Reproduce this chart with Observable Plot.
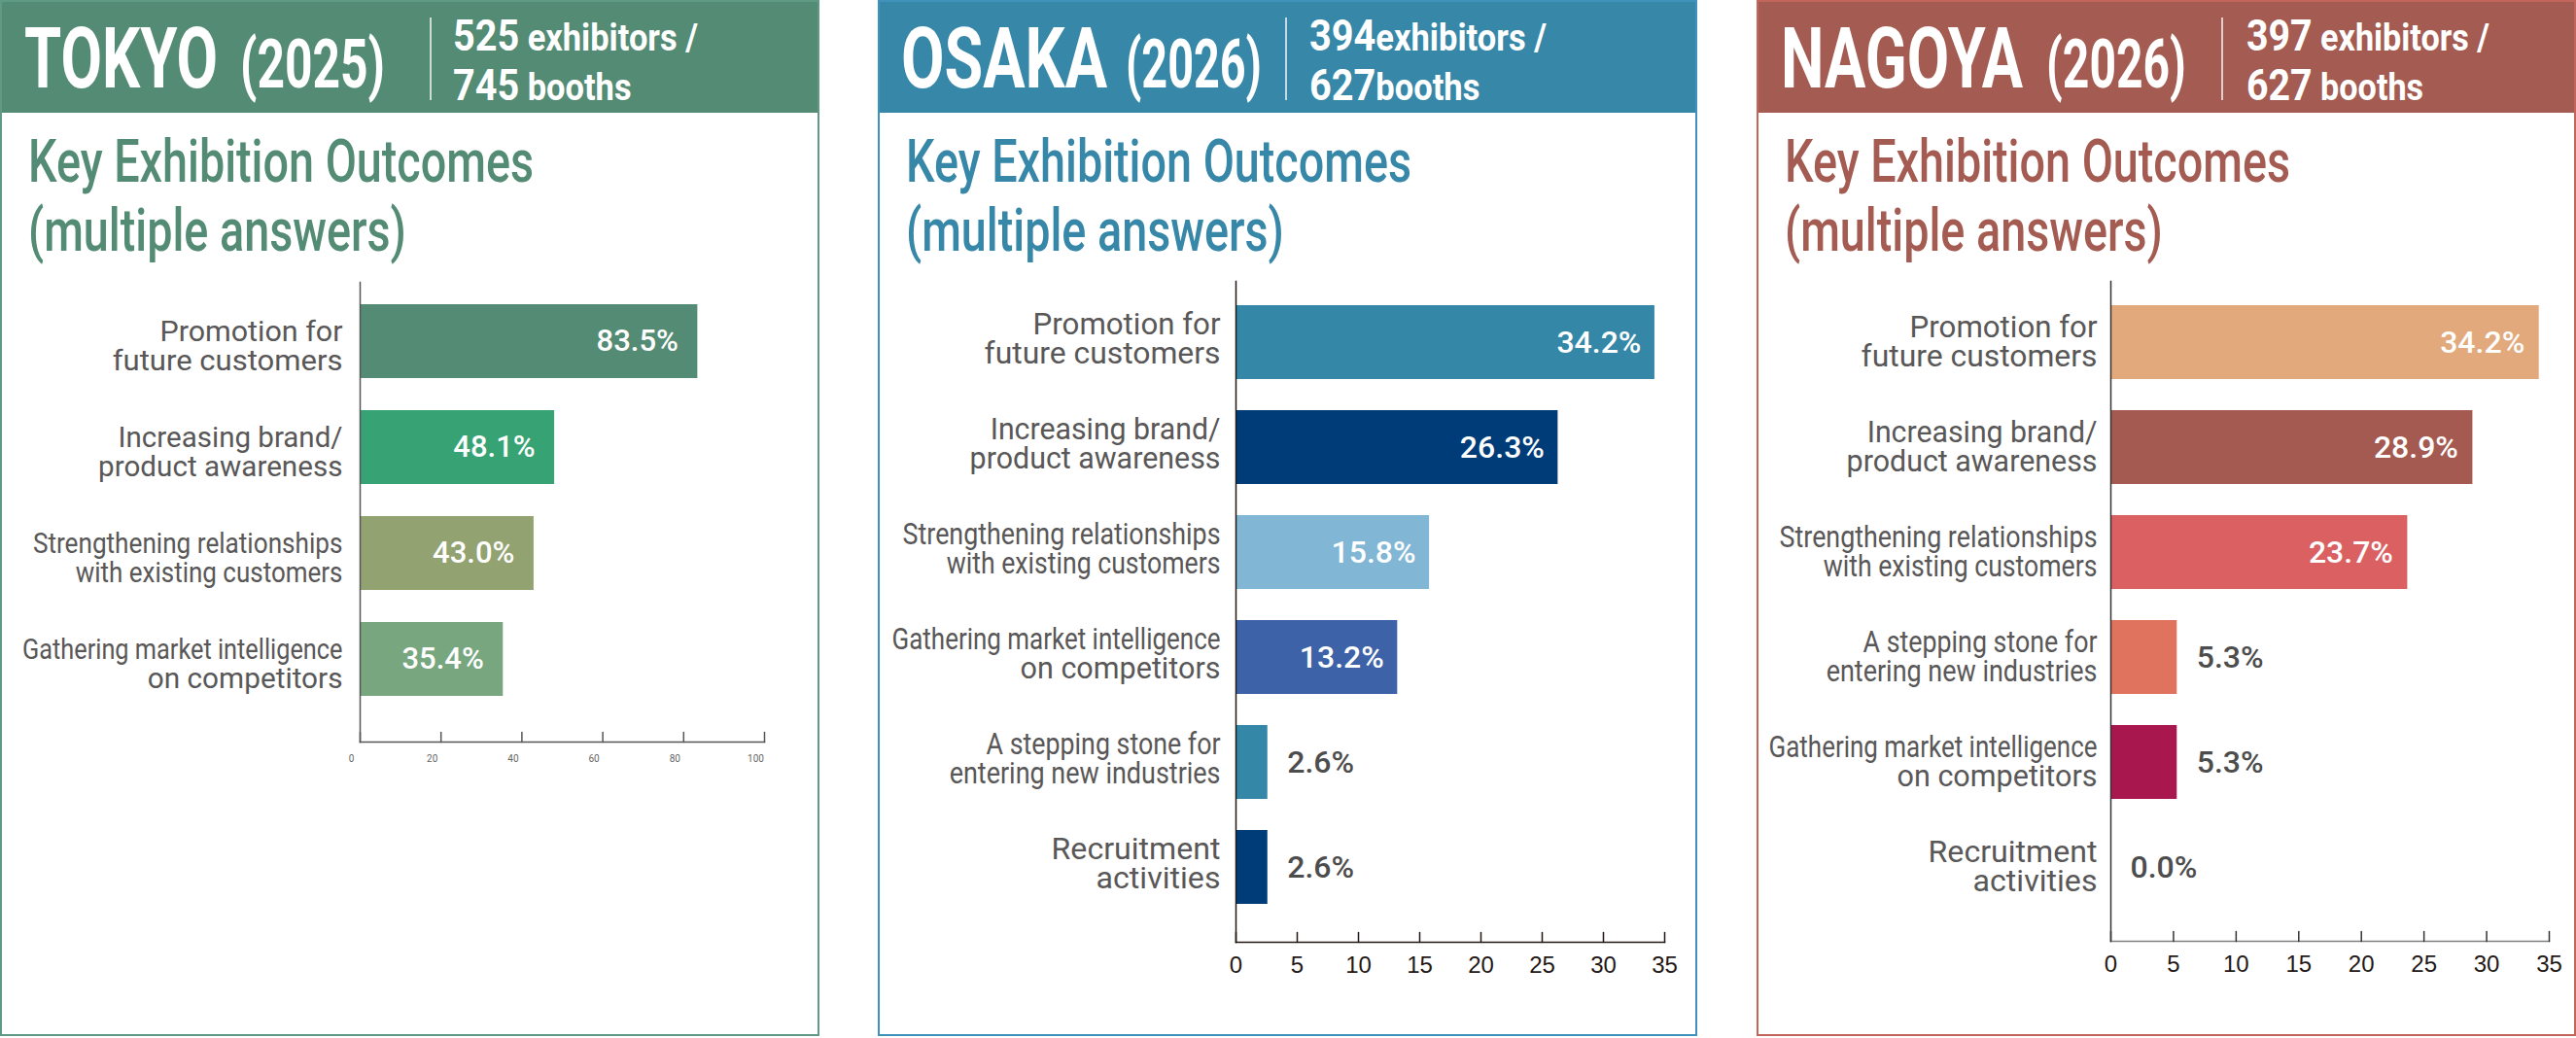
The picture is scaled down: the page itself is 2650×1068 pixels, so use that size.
<!DOCTYPE html>
<html>
<head>
<meta charset="utf-8">
<script src="https://cdn.jsdelivr.net/npm/d3@7"></script>
<script src="https://cdn.jsdelivr.net/npm/@observablehq/plot@0.6"></script>
<style>
html, body { margin: 0; padding: 0; background: #fff; }
#root { position: relative; width: 2650px; height: 1068px; overflow: hidden; background: #fff; }
.panel { position: absolute; top: 0; width: 843px; height: 1066px; }
.frame { position: absolute; left: 0; top: 0; width: 843px; height: 1066px; box-sizing: border-box; border: 2px solid; pointer-events: none; }
.hdr { position: absolute; left: 0; top: 0; width: 843px; height: 116px; }
.t { position: absolute; white-space: nowrap; transform-origin: 0 0; line-height: 1; font-family: Roboto, "DejaVu Sans", sans-serif; }
.chart { position: absolute; left: 0; top: 280px; }
</style>
</head>
<body>
<div id="root"></div>
<script>
// ---------- DATA ----------
const cities = ["TOKYO", "OSAKA", "NAGOYA"];
const years = ["(2025)", "(2026)", "(2026)"];
const exhibitorCounts = ["525", "394", "397"];
const exhibitorWords = [" exhibitors /", "exhibitors /", " exhibitors /"];
const boothCounts = ["745", "627", "627"];
const boothWords = [" booths", "booths", " booths"];
const titleLine1 = "Key Exhibition Outcomes";
const titleLine2 = "(multiple answers)";

const tokyoCategories = [
  "Promotion for\nfuture customers",
  "Increasing brand/\nproduct awareness",
  "Strengthening relationships\nwith existing customers",
  "Gathering market intelligence\non competitors"
];
const tokyoValues = [83.5, 48.1, 43.0, 35.4];
const tokyoColors = ["#548b74", "#37a273", "#92a271", "#77a67f"];
const tokyoTicks = [0, 20, 40, 60, 80, 100];

const osakaCategories = [
  "Promotion for\nfuture customers",
  "Increasing brand/\nproduct awareness",
  "Strengthening relationships\nwith existing customers",
  "Gathering market intelligence\non competitors",
  "A stepping stone for\nentering new industries",
  "Recruitment\nactivities"
];
const osakaValues = [34.2, 26.3, 15.8, 13.2, 2.6, 2.6];
const osakaColors = ["#3587a8", "#003c78", "#81b6d5", "#3e62a8", "#3587a8", "#003c78"];
const osakaTicks = [0, 5, 10, 15, 20, 25, 30, 35];

const nagoyaCategories = [
  "Promotion for\nfuture customers",
  "Increasing brand/\nproduct awareness",
  "Strengthening relationships\nwith existing customers",
  "A stepping stone for\nentering new industries",
  "Gathering market intelligence\non competitors",
  "Recruitment\nactivities"
];
const nagoyaValues = [34.2, 28.9, 23.7, 5.3, 5.3, 0.0];
const nagoyaColors = ["#e2a97c", "#a45a50", "#da6062", "#e0735e", "#a8184f", "#ffffff"];
const nagoyaTicks = [0, 5, 10, 15, 20, 25, 30, 35];

// ---------- LAYOUT / STYLE ----------
// set width (px) of each label line in the reference typesetting (some lines are condensed)
const labelLineWidths = {
  "Promotion for": 193, "future customers": 243,
  "Increasing brand/": 237, "product awareness": 258,
  "Strengthening relationships": 327, "with existing customers": 282,
  "Gathering market intelligence": 338, "on competitors": 206,
  "A stepping stone for": 241, "entering new industries": 279,
  "Recruitment": 174, "activities": 128
};

const panelsCfg = [
  { left: 0, head: "#538b74", border: "#5f9a84",
    city: {x: 25, w: 199}, year: {x: 247, w: 149}, div: 442, stats: {x: 466, w: 252},
    chart: { categories: tokyoCategories, values: tokyoValues, colors: tokyoColors, ticks: tokyoTicks,
      ml: 370, mr: 57, mt: 10, mb: 303, it: 23, ib: 46,
      yAxisColor: "#555", xAxisColor: "#555", tickColor: "#555",
      tickDy: 17, tickDx: -9, tickFont: 10, tickTextColor: "#666", tickFamily: "Roboto, sans-serif",
      labelPad: 18, labelFont: 30, line1: -1, line2: 29, labelColor: "#595757", widthScale: 0.975,
      valFont: 31, valWeight: 500, valPadIn: 20, valPadOut: 20, valOutColor: "#4d4d4d" } },
  { left: 903, head: "#3787a8", border: "#3f93bb",
    city: {x: 24, w: 212}, year: {x: 255, w: 140}, div: 419, stats: {x: 444, w: 244},
    chart: { categories: osakaCategories, values: osakaValues, colors: osakaColors, ticks: osakaTicks,
      ml: 368, mr: 34, mt: 9, mb: 97, it: 25, ib: 39,
      yAxisColor: "#231815", xAxisColor: "#231815", tickColor: "#231815",
      tickDy: 24, tickDx: 0, tickFont: 24, tickTextColor: "#231815", tickFamily: "'Liberation Sans', Arial, sans-serif",
      labelPad: 16, labelFont: 31.5, line1: -9, line2: 21, labelColor: "#595757", widthScale: 1,
      valFont: 32, valWeight: 500, valPadIn: 14, valPadOut: 20, valOutColor: "#4d4d4d" } },
  { left: 1807, head: "#a45b51", border: "#c2665b",
    city: {x: 25, w: 249}, year: {x: 298, w: 144}, div: 478, stats: {x: 504, w: 250},
    chart: { categories: nagoyaCategories, values: nagoyaValues, colors: nagoyaColors, ticks: nagoyaTicks,
      ml: 364, mr: 28, mt: 9, mb: 98, it: 25, ib: 38,
      yAxisColor: "#333", xAxisColor: "#7f7f7f", tickColor: "#333",
      tickDy: 24, tickDx: 0, tickFont: 24, tickTextColor: "#231815", tickFamily: "'Liberation Sans', Arial, sans-serif",
      labelPad: 14, labelFont: 31.5, line1: -6, line2: 24, labelColor: "#595757", widthScale: 1,
      valFont: 32, valWeight: 500, valPadIn: 15, valPadOut: 20, valOutColor: "#4d4d4d" } }
];

// tick mark drawn upward from the axis line
const upTick = { draw(context, l) { context.moveTo(0, 0); context.lineTo(0, -l); } };

// ---------- CHART ----------
function drawChart(cfg) {
  const rows = cfg.categories.map((c, i) => ({cat: c, v: cfg.values[i], color: cfg.colors[i]}));
  const fmt = d => d.v.toFixed(1) + "%";
  const labelOpts = {y: "cat", frameAnchor: "left", textAnchor: "end", lineAnchor: "bottom", dx: -cfg.labelPad,
    fontSize: cfg.labelFont, fontWeight: 400, fill: cfg.labelColor};
  return Plot.plot({
    width: 843, height: 786,
    marginLeft: cfg.ml, marginRight: cfg.mr, marginTop: cfg.mt, marginBottom: cfg.mb,
    x: {domain: [cfg.ticks[0], cfg.ticks[cfg.ticks.length - 1]], axis: null},
    y: {domain: cfg.categories, paddingInner: 0.3, paddingOuter: 0, insetTop: cfg.it, insetBottom: cfg.ib, axis: null},
    color: {type: "identity"},
    style: {background: "transparent", fontFamily: "Roboto, sans-serif", overflow: "visible"},
    marks: [
      Plot.barX(rows, {x: "v", y: "cat", fill: "color"}),
      Plot.frame({anchor: "left", stroke: cfg.yAxisColor, strokeWidth: 1.5}),
      Plot.frame({anchor: "bottom", stroke: cfg.xAxisColor, strokeWidth: 1.5}),
      Plot.vector(cfg.ticks, {x: d => d, frameAnchor: "bottom", length: 10, rotate: 0, anchor: "start",
        shape: upTick, stroke: cfg.tickColor, strokeWidth: 1.5}),
      Plot.text(cfg.ticks, {x: d => d, text: d => String(d), frameAnchor: "bottom", dy: cfg.tickDy, dx: cfg.tickDx,
        lineAnchor: "middle", fontSize: cfg.tickFont, fill: cfg.tickTextColor, fontFamily: cfg.tickFamily}),
      Plot.text(rows, {...labelOpts, text: d => d.cat.split("\n")[0], dy: cfg.line1}),
      Plot.text(rows, {...labelOpts, text: d => d.cat.split("\n")[1], dy: cfg.line2}),
      Plot.text(rows.filter(d => d.v >= 10), {x: "v", y: "cat", text: fmt, textAnchor: "end", dx: -cfg.valPadIn,
        fill: "white", fontSize: cfg.valFont, fontWeight: cfg.valWeight}),
      Plot.text(rows.filter(d => d.v < 10), {x: "v", y: "cat", text: fmt, textAnchor: "start", dx: cfg.valPadOut,
        fill: cfg.valOutColor, fontSize: cfg.valFont, fontWeight: cfg.valWeight})
    ]
  });
}

// condense each category-label line (right-aligned, so scaling keeps its anchor)
function condenseLabels(svg, cfg) {
  const groups = svg.querySelectorAll('g[aria-label="text"]');
  [groups[1], groups[2]].forEach(g => {
    if (!g) return;
    g.querySelectorAll("text").forEach(t => {
      const target = labelLineWidths[t.textContent];
      if (!target) return;
      const w = t.getComputedTextLength();
      if (!w) return;
      const k = target * cfg.widthScale / w;
      t.setAttribute("transform", (t.getAttribute("transform") || "") + ` scale(${k},1)`);
    });
  });
}

// ---------- PANELS ----------
const root = document.getElementById("root");
const BASE = 0.842; // baseline offset of Roboto with line-height 1

function addText(parent, html, x, baseline, size, weight, color) {
  const d = document.createElement("div");
  d.className = "t";
  d.style.left = x + "px";
  d.style.top = (baseline - BASE * size) + "px";
  d.style.fontSize = size + "px";
  d.style.fontWeight = weight;
  d.style.color = color;
  d.innerHTML = html;
  parent.appendChild(d);
  return d;
}
function squeeze(el, target) {
  const w = el.getBoundingClientRect().width;
  const k = target / w;
  el.style.transform = `scaleX(${k})`;
  return k;
}

panelsCfg.forEach((p, i) => {
  const el = document.createElement("div");
  el.className = "panel";
  el.style.left = p.left + "px";
  root.appendChild(el);

  const hdr = document.createElement("div");
  hdr.className = "hdr";
  hdr.style.background = p.head;
  el.appendChild(hdr);

  const c = addText(el, cities[i], p.city.x, 90, 88, 700, "#fff");
  squeeze(c, p.city.w);
  const y = addText(el, years[i], p.year.x, 90, 70, 700, "#fff");
  squeeze(y, p.year.w);

  const dv = document.createElement("div");
  dv.style.cssText = `position:absolute;left:${p.div}px;top:18px;width:1.5px;height:85px;background:rgba(255,255,255,0.7)`;
  el.appendChild(dv);

  const s1 = addText(el, `${exhibitorCounts[i]}<span style="font-size:0.87em">${exhibitorWords[i]}</span>`, p.stats.x, 52, 45, 700, "#fff");
  const k = squeeze(s1, p.stats.w);
  const s2 = addText(el, `${boothCounts[i]}<span style="font-size:0.87em">${boothWords[i]}</span>`, p.stats.x, 103, 45, 700, "#fff");
  s2.style.transform = `scaleX(${k})`;

  const t1 = addText(el, titleLine1, 29, 187, 62, 500, p.head);
  const kt = squeeze(t1, 520);
  const t2 = addText(el, titleLine2, 29, 258, 62, 500, p.head);
  t2.style.transform = `scaleX(${kt})`;

  const holder = document.createElement("div");
  holder.className = "chart";
  const svg = drawChart(p.chart);
  holder.appendChild(svg);
  el.appendChild(holder);
  condenseLabels(svg, p.chart);

  const fr = document.createElement("div");
  fr.className = "frame";
  fr.style.borderColor = p.border;
  el.appendChild(fr);
});
</script>
</body>
</html>
